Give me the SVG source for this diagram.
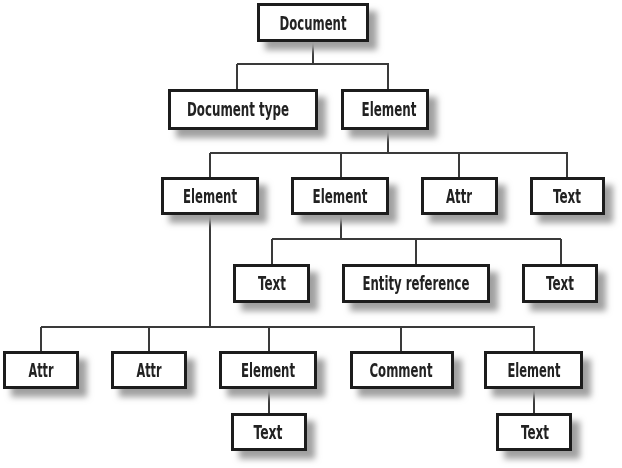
<svg xmlns="http://www.w3.org/2000/svg" width="622" height="468" viewBox="0 0 622 468">
<style>
.box{fill:#fff;stroke:#1e1e1e;stroke-width:3}
.lbl{font-family:"DejaVu Sans Condensed","DejaVu Sans","Liberation Sans",sans-serif;font-stretch:condensed;font-weight:bold;font-size:20px;fill:#222;text-anchor:middle}
.node{filter:url(#sh)}
#connectors path{fill:none;stroke:#3a3a3a;stroke-width:2}
</style>
<defs>
<filter id="sh" x="-20%" y="-30%" width="150%" height="190%">
<feGaussianBlur in="SourceAlpha" stdDeviation="3" result="b"/>
<feOffset in="b" dx="8" dy="8" result="o"/>
<feFlood flood-color="#a0a0a0"/>
<feComposite in2="o" operator="in" result="s"/>
<feMerge><feMergeNode in="s"/><feMergeNode in="SourceGraphic"/></feMerge>
</filter>
</defs>
<rect width="622" height="468" fill="#fff"/>
<g id="connectors">
<path d="M313 42V64M237 64H389M237 64V89M388 64V89"/>
<path d="M388 130V153M210 153H568M210 153V177M341 153V177M459 153V177M567 153V177"/>
<path d="M341 215V239M272 239H561M272 239V264M416 239V264M561 239V264"/>
<path d="M210 215V327M41 327H535M41 327V351M149 327V351M269 327V351M401 327V351M534 327V351"/>
<path d="M269 389V413M534 389V413"/>
</g>
<g id="n-document" class="node"><rect class="box" x="258.5" y="4.5" width="109" height="36"/><text class="lbl" x="313" y="30" textLength="67" lengthAdjust="spacingAndGlyphs">Document</text></g>
<g id="n-doctype" class="node"><rect class="box" x="169.5" y="90.5" width="147" height="38"/><text class="lbl" x="238" y="116" textLength="102" lengthAdjust="spacingAndGlyphs">Document type</text></g>
<g id="n-element-root" class="node"><rect class="box" x="342.5" y="90.5" width="85" height="38"/><text class="lbl" x="389" y="116" textLength="55" lengthAdjust="spacingAndGlyphs">Element</text></g>
<g id="n-element-a" class="node"><rect class="box" x="162.5" y="178.5" width="95" height="35"/><text class="lbl" x="210" y="203" textLength="54" lengthAdjust="spacingAndGlyphs">Element</text></g>
<g id="n-element-b" class="node"><rect class="box" x="292.5" y="178.5" width="95" height="35"/><text class="lbl" x="340" y="203" textLength="55" lengthAdjust="spacingAndGlyphs">Element</text></g>
<g id="n-attr-a" class="node"><rect class="box" x="422.5" y="178.5" width="74" height="35"/><text class="lbl" x="459" y="203" textLength="26" lengthAdjust="spacingAndGlyphs">Attr</text></g>
<g id="n-text-a" class="node"><rect class="box" x="531.5" y="178.5" width="72" height="35"/><text class="lbl" x="567" y="203" textLength="28" lengthAdjust="spacingAndGlyphs">Text</text></g>
<g id="n-text-b" class="node"><rect class="box" x="234.5" y="265.5" width="74" height="36"/><text class="lbl" x="272" y="290" textLength="28" lengthAdjust="spacingAndGlyphs">Text</text></g>
<g id="n-entity" class="node"><rect class="box" x="343.5" y="265.5" width="145" height="36"/><text class="lbl" x="416" y="290" textLength="107" lengthAdjust="spacingAndGlyphs">Entity reference</text></g>
<g id="n-text-c" class="node"><rect class="box" x="523.5" y="265.5" width="73" height="36"/><text class="lbl" x="560" y="290" textLength="28" lengthAdjust="spacingAndGlyphs">Text</text></g>
<g id="n-attr-b" class="node"><rect class="box" x="4.5" y="352.5" width="73" height="35"/><text class="lbl" x="41" y="377" textLength="25" lengthAdjust="spacingAndGlyphs">Attr</text></g>
<g id="n-attr-c" class="node"><rect class="box" x="112.5" y="352.5" width="73" height="35"/><text class="lbl" x="149" y="377" textLength="25" lengthAdjust="spacingAndGlyphs">Attr</text></g>
<g id="n-element-c" class="node"><rect class="box" x="220.5" y="352.5" width="95" height="35"/><text class="lbl" x="268" y="377" textLength="54" lengthAdjust="spacingAndGlyphs">Element</text></g>
<g id="n-comment" class="node"><rect class="box" x="351.5" y="352.5" width="101" height="35"/><text class="lbl" x="401" y="377" textLength="63" lengthAdjust="spacingAndGlyphs">Comment</text></g>
<g id="n-element-d" class="node"><rect class="box" x="485.5" y="352.5" width="96" height="35"/><text class="lbl" x="534" y="377" textLength="53" lengthAdjust="spacingAndGlyphs">Element</text></g>
<g id="n-text-d" class="node"><rect class="box" x="232.5" y="414.5" width="73" height="35"/><text class="lbl" x="268" y="439" textLength="29" lengthAdjust="spacingAndGlyphs">Text</text></g>
<g id="n-text-e" class="node"><rect class="box" x="497.5" y="414.5" width="73" height="35"/><text class="lbl" x="535" y="439" textLength="28" lengthAdjust="spacingAndGlyphs">Text</text></g>
</svg>
